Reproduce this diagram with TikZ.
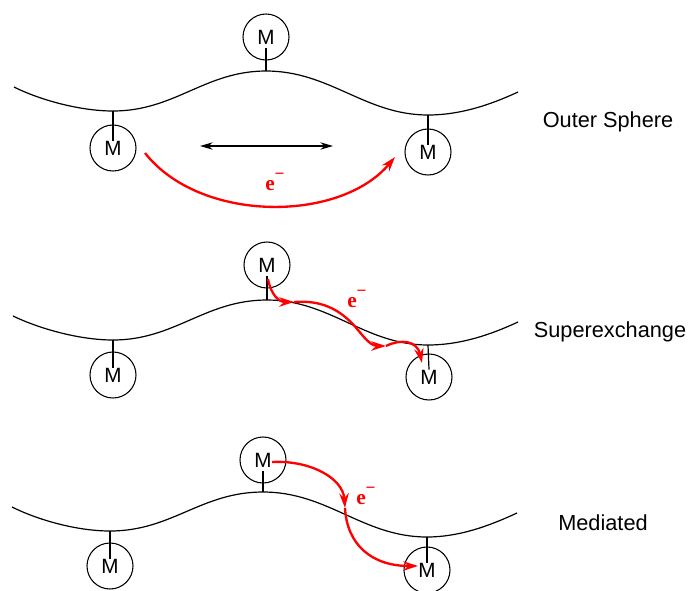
\documentclass[tikz,border=0pt]{standalone}
\usepackage{fontspec}
\setmainfont{Liberation Sans}
\newfontfamily\eserif{Liberation Serif}
\usetikzlibrary{arrows.meta}

% electron symbol: bold e with a raised minus
\newcommand{\electron}{e\raisebox{0.5em}{\fontsize{13}{13}\selectfont −}}

\begin{document}
\begin{tikzpicture}[x=0.75pt,y=-0.75pt,
  wave/.style={line width=0.9pt},
  metal/.style={draw, circle, line width=0.8pt, minimum size=34.5pt, inner sep=0pt,
    font=\fontsize{15.5}{16}\selectfont},
  stick/.style={line width=0.9pt},
  hop/.style={red, line width=1.75pt, -{Stealth[length=11pt,width=7pt]}},
  elabel/.style={red, inner sep=0pt, font=\eserif\bfseries\fontsize{16}{16}\selectfont},
  mode/.style={font=\fontsize{16.3}{18}\selectfont},
  swap/.style={line width=1pt, {Stealth[length=9.5pt,width=5.5pt]}-{Stealth[length=9.5pt,width=5.5pt]}}
]
\useasboundingbox (0,0) rectangle (693,590);

% ---------- Outer sphere ----------
\coordinate (s1) at (14,87);
\coordinate (a1) at (113,111);
\coordinate (t1) at (266,71);
\coordinate (d1) at (428,115);
\coordinate (e1) at (518,92);
\draw[wave] (s1) .. controls (40,100) and (80,111) .. (a1)
  .. controls (175,111) and (205,71) .. (t1)
  .. controls (330,71) and (365,115) .. (d1)
  .. controls (460,115) and (490,105) .. (e1);
\node[metal] (m1t) at (266,37) {M};
\node[metal] (m1l) at (113,148) {M};
\node[metal] (m1r) at (428,152) {M};
\draw[stick] ([yshift=-8.5pt]m1t.center) -- (t1);
\draw[stick] (a1) -- ([yshift=5.5pt]m1l.center);
\draw[stick] (d1) -- ([yshift=5.5pt]m1r.center);
\coordinate (x1l) at (200,146);
\coordinate (x1r) at (333,146);
\draw[swap] (x1l) -- (x1r);
\coordinate (h1s) at (145,153);
\coordinate (h1e) at (395,157);
\draw[hop] (h1s) .. controls (200,223) and (340,223) .. (h1e);
\node[elabel, anchor=base west] (el1) at (265,190) {\electron};
\node[mode] (lab1) at (608,122) {Outer Sphere};

% ---------- Superexchange ----------
\coordinate (s2) at (13,316);
\coordinate (a2) at (113,340);
\coordinate (t2) at (267,300);
\coordinate (d2) at (428,345);
\coordinate (e2) at (518,322);
\draw[wave] (s2) .. controls (40,329) and (80,340) .. (a2)
  .. controls (175,340) and (205,300) .. (t2)
  .. controls (330,300) and (365,345) .. (d2)
  .. controls (460,345) and (490,335) .. (e2);
\node[metal] (m2t) at (267,265) {M};
\node[metal] (m2l) at (113,375) {M};
\node[metal] (m2r) at (429,377) {M};
\draw[stick] ([yshift=-8.5pt]m2t.center) -- (t2);
\draw[stick] (a2) -- ([yshift=5.5pt]m2l.center);
\draw[stick] (d2) -- ([yshift=5.5pt]m2r.center);
\coordinate (h2s) at (268,279);
\coordinate (h2a) at (294,302);
\coordinate (h2b) at (386,346);
\coordinate (h2e) at (422,363);
\draw[hop] (h2s) .. controls (271,295) and (279,302) .. (h2a);
\draw[hop] (h2a) .. controls (320,300) and (340,308) .. (358,330)
  .. controls (366,340) and (372,346) .. (h2b);
\draw[hop] (h2b) .. controls (400,339) and (417,340) .. (h2e);
\node[elabel, anchor=base west] (el2) at (347,307) {\electron};
\node[mode] (lab2) at (610,332) {Superexchange};

% ---------- Mediated ----------
\coordinate (s3) at (12,507);
\coordinate (a3) at (110,531);
\coordinate (t3) at (263,492);
\coordinate (d3) at (427,537);
\coordinate (e3) at (517,513);
\draw[wave] (s3) .. controls (38,520) and (77,531) .. (a3)
  .. controls (172,531) and (201,492) .. (t3)
  .. controls (328,492) and (363,537) .. (d3)
  .. controls (459,537) and (489,526) .. (e3);
\node[metal] (m3t) at (263,460) {M};
\node[metal] (m3l) at (110,566) {M};
\node[metal] (m3r) at (427,570) {M};
\draw[stick] ([yshift=-8.5pt]m3t.center) -- (t3);
\draw[stick] (a3) -- ([yshift=5.5pt]m3l.center);
\draw[stick] (d3) -- ([yshift=5.5pt]m3r.center);
\coordinate (h3s) at (272,462);
\coordinate (h3a) at (345,508);
\coordinate (h3e) at (418,566);
\draw[hop] (h3s) .. controls (310,460) and (343,478) .. (h3a);
\draw[hop] (h3a) .. controls (347,545) and (372,566) .. (h3e);
\node[elabel, anchor=base west] (el3) at (356,504) {\electron};
\node[mode] (lab3) at (603,523) {Mediated};
\end{tikzpicture}
\end{document}
